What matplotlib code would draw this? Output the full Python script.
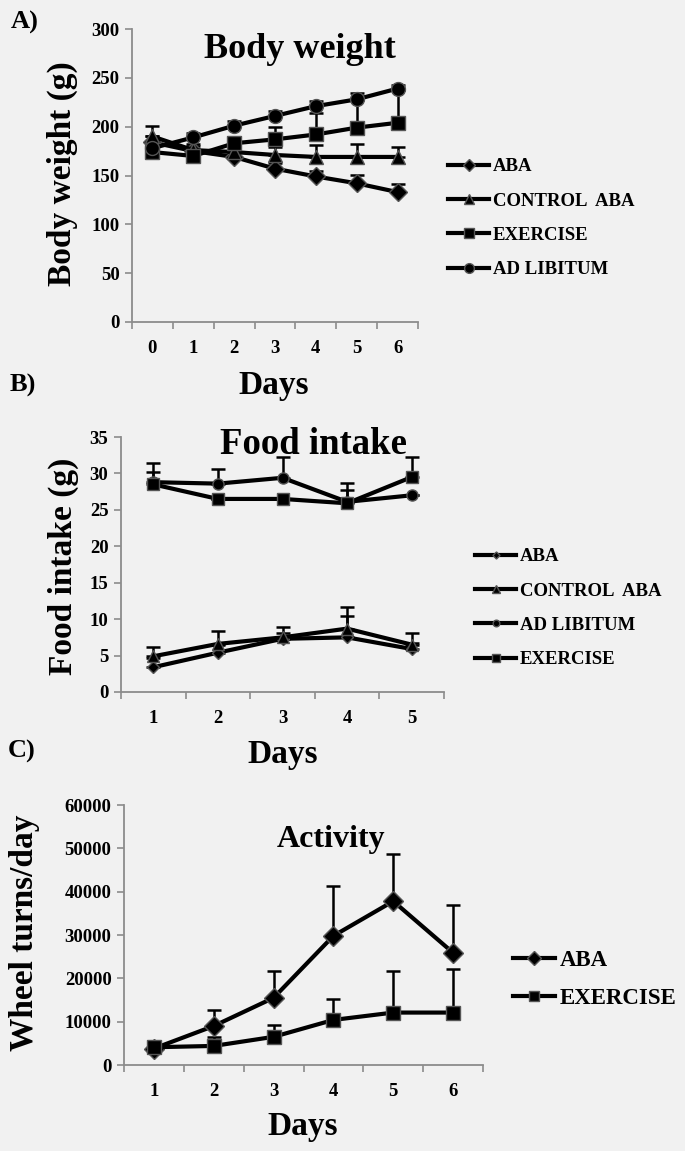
import numpy as np
import matplotlib
matplotlib.use("Agg")
import matplotlib.pyplot as plt

plt.rcParams['font.family'] = ['Liberation Serif', 'DejaVu Serif']

# ---------------- data ----------------
days_a = ['0', '1', '2', '3', '4', '5', '6']
bw_aba = [184, 175, 169, 157, 149, 142, 133]
bw_aba_err = [6, 5, 5, 6, 6, 9, 8]
bw_ctrl = [190, 176, 174, 171, 169, 169, 169]
bw_ctrl_err = [11, 6, 5, 8, 12, 13, 10]
bw_ex = [174, 170, 183, 187, 192, 199, 204]
bw_ex_err = [5, 5, 6, 13, 22, 28, 34]
bw_adlib = [178, 189, 201, 211, 221, 228, 239]
bw_adlib_err = [4, 5, 5, 5, 5, 6, 4]

days_b = ['1', '2', '3', '4', '5']
fi_aba = [3.4, 5.4, 7.3, 7.5, 5.9]
fi_aba_err = [1.2, 1.0, 0.8, 3.0, 0.8]
fi_ctrl = [4.9, 6.6, 7.5, 8.7, 6.5]
fi_ctrl_err = [1.3, 1.8, 1.4, 3.0, 1.6]
fi_adlib = [28.8, 28.6, 29.4, 26.1, 27.0]
fi_adlib_err = [2.6, 2.0, 2.8, 2.6, 0.0]
fi_ex = [28.5, 26.5, 26.5, 25.9, 29.5]
fi_ex_err = [1.7, 0.0, 0.0, 1.8, 2.8]

days_c = ['1', '2', '3', '4', '5', '6']
act_aba = [3800, 9000, 15500, 29800, 37800, 25900]
act_aba_err = [0, 3800, 6200, 11600, 11000, 11000]
act_ex = [4100, 4400, 6500, 10400, 12100, 12100]
act_ex_err = [0, 2100, 2700, 4800, 9600, 10000]

# ---------------- style ----------------
BG = '#f1f1f1'
AXC = '#8c8c8c'
W, H = 685, 1151
fig = plt.figure(figsize=(6.85, 11.51), dpi=100, facecolor=BG)


def fx(px):
    return px / W


def fy(py):
    return 1 - py / H


def setup_axis(ax, cats, ymax, ystep, fs_tick=13.5):
    n = len(cats)
    ax.set_facecolor(BG)
    ax.set_xlim(-0.5, n - 0.5)
    ax.set_ylim(0, ymax)
    ax.set_yticks(np.arange(0, ymax + ystep / 2, ystep))
    ax.set_xticks(np.arange(-0.5, n, 1.0))
    ax.set_xticklabels([])
    ax.set_xticks(np.arange(n), minor=True)
    ax.set_xticklabels(cats, minor=True, fontweight='bold')
    for lab in ax.get_yticklabels():
        lab.set_fontweight('bold')
    ax.tick_params(axis='x', which='major', length=5, width=1.2, color=AXC, direction='out')
    ax.tick_params(axis='x', which='minor', length=0, pad=13, labelsize=fs_tick)
    ax.tick_params(axis='y', length=5, width=1.2, color=AXC, direction='out', labelsize=fs_tick, pad=4)
    for s in ['top', 'right']:
        ax.spines[s].set_visible(False)
    for s in ['left', 'bottom']:
        ax.spines[s].set_color(AXC)
        ax.spines[s].set_linewidth(1.3)


def series(ax, vals, errs, marker, ms, label):
    x = np.arange(len(vals))
    ax.errorbar(x, vals, yerr=[np.zeros(len(errs)), errs], fmt='none',
                ecolor='black', elinewidth=1.8, capsize=5, capthick=1.8, zorder=2)
    ax.plot(x, vals, color='black', lw=3.0, marker=marker, ms=ms,
            mfc='black', mec='#555555', mew=1.0, label=label, zorder=3)


def legend(ax, xpx, ypx, fs, spacing, hl, ms_scale):
    h, l = ax.get_legend_handles_labels()
    fig.legend(h, l, loc='upper left', bbox_to_anchor=(fx(xpx), fy(ypx)),
               frameon=False, handlelength=hl, handletextpad=0.2, borderpad=0,
               borderaxespad=0, labelspacing=spacing,
               prop={'weight': 'bold', 'size': fs}, markerscale=ms_scale)


LBL = dict(fontsize=24, fontweight='bold', ha='center', va='center')

# ---------------- Panel A ----------------
axA = fig.add_axes([fx(132), fy(322), fx(418 - 132), (322 - 29) / H])
setup_axis(axA, days_a, 300, 50)
series(axA, bw_aba, bw_aba_err, 'D', 9, 'ABA')
series(axA, bw_ctrl, bw_ctrl_err, '^', 10, 'CONTROL  ABA')
series(axA, bw_ex, bw_ex_err, 's', 10, 'EXERCISE')
series(axA, bw_adlib, bw_adlib_err, 'o', 10, 'AD LIBITUM')
fig.text(fx(62), fy(174), 'Body weight (g)', rotation=90, **LBL)
fig.text(fx(274), fy(386), 'Days', **LBL)
fig.text(fx(300), fy(50), 'Body weight', fontsize=26, fontweight='bold', ha='center', va='center')
legend(axA, 448, 158, 13.5, 0.92, 2.2, 0.7)
fig.text(fx(25), fy(22), 'A)', fontsize=19, fontweight='bold', ha='center', va='center')

# ---------------- Panel B ----------------
axB = fig.add_axes([fx(121), fy(692), fx(444 - 121), (692 - 437) / H])
setup_axis(axB, days_b, 35, 5)
series(axB, fi_aba, fi_aba_err, 'D', 6, 'ABA')
series(axB, fi_ctrl, fi_ctrl_err, '^', 9, 'CONTROL  ABA')
series(axB, fi_adlib, fi_adlib_err, 'o', 8, 'AD LIBITUM')
series(axB, fi_ex, fi_ex_err, 's', 9, 'EXERCISE')
fig.text(fx(63), fy(566), 'Food intake (g)', rotation=90, **LBL)
fig.text(fx(283), fy(755), 'Days', **LBL)
fig.text(fx(313), fy(444), 'Food intake', fontsize=26.5, fontweight='bold', ha='center', va='center')
legend(axB, 475, 548, 13.5, 0.92, 2.2, 0.6)
fig.text(fx(23), fy(385), 'B)', fontsize=19, fontweight='bold', ha='center', va='center')

# ---------------- Panel C ----------------
axC = fig.add_axes([fx(124), fy(1065), fx(483 - 124), (1065 - 805) / H])
setup_axis(axC, days_c, 60000, 10000)
series(axC, act_aba, act_aba_err, 'D', 10, 'ABA')
series(axC, act_ex, act_ex_err, 's', 10, 'EXERCISE')
fig.text(fx(25), fy(933), 'Wheel turns/day', rotation=90, **LBL)
fig.text(fx(303), fy(1127), 'Days', **LBL)
fig.text(fx(331), fy(839), 'Activity', fontsize=23, fontweight='bold', ha='center', va='center')
legend(axC, 513, 950, 16.5, 0.75, 1.85, 0.7)
fig.text(fx(22), fy(751), 'C)', fontsize=19, fontweight='bold', ha='center', va='center')

fig.savefig('out.png', dpi=100, facecolor=BG)
